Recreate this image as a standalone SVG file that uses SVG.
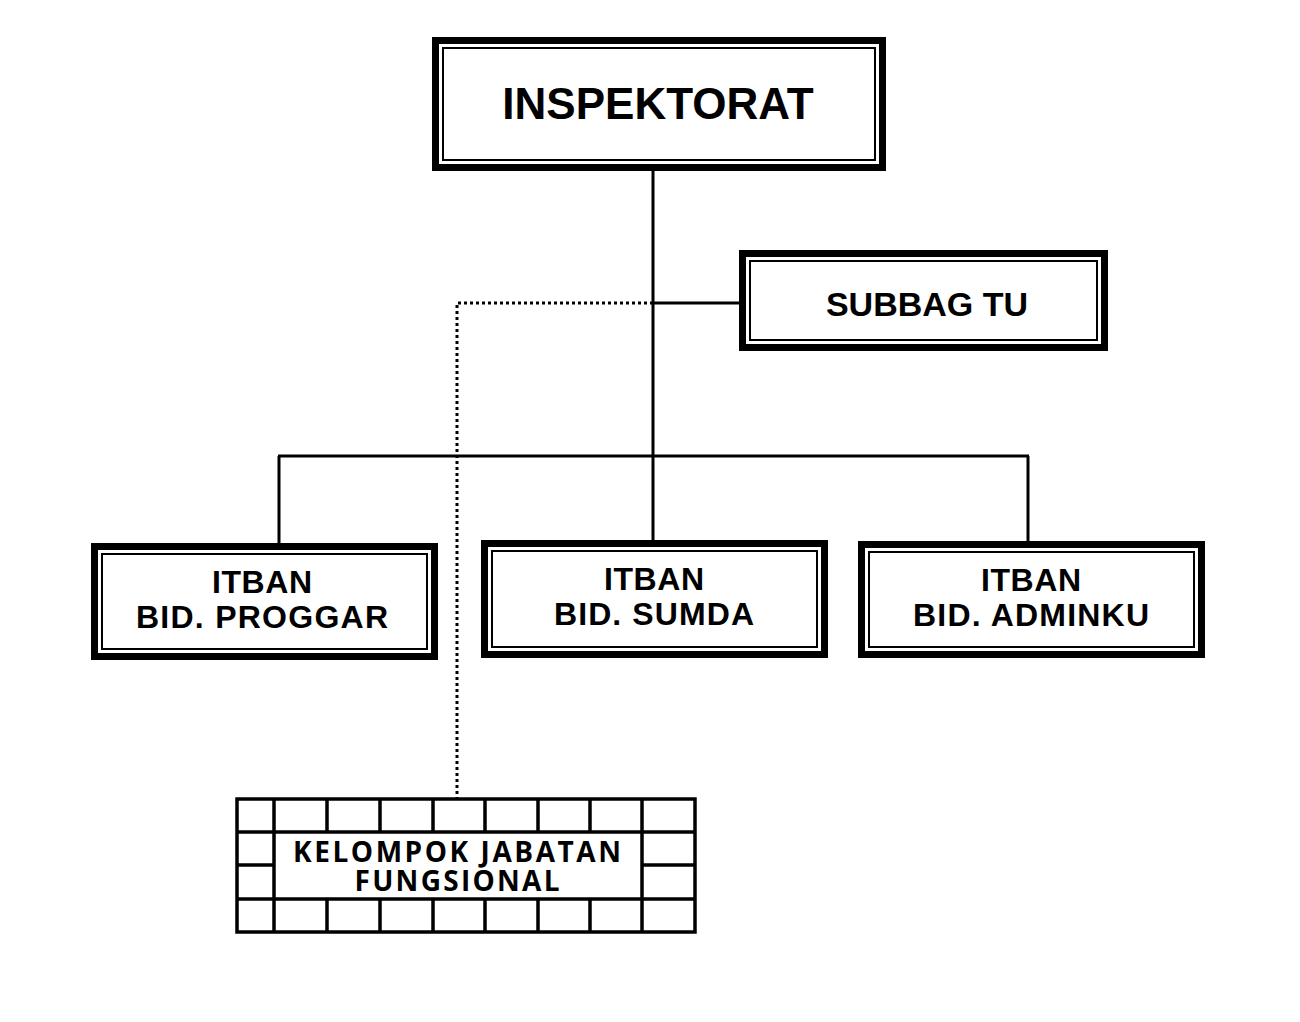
<svg xmlns="http://www.w3.org/2000/svg" width="1300" height="1022" viewBox="0 0 1300 1022">
<style>
.o{fill:#fff;stroke:#000;stroke-width:7}
.i{fill:none;stroke:#000;stroke-width:2}
.t{font-family:"Liberation Sans",Arial,sans-serif;font-weight:bold;fill:#000;text-anchor:middle}
.k{font-family:"Open Sans",sans-serif;font-weight:bold;fill:#000;text-anchor:middle;font-size:28px}
.g{fill:none;stroke:#000;stroke-width:3.5}
.l{stroke:#000;stroke-width:3;fill:none}
.d{stroke:#000;stroke-width:3;fill:none;stroke-dasharray:3 3}
</style>
<rect width="1300" height="1022" fill="#fff"/>
<g id="connectors">
<line class="l" x1="653" y1="171" x2="653" y2="540"/>
<line class="l" x1="653" y1="303" x2="739" y2="303"/>
<line class="l" x1="278" y1="456" x2="1029" y2="456"/>
<line class="l" x1="279" y1="456" x2="279" y2="543"/>
<line class="l" x1="1028" y1="456" x2="1028" y2="541"/>
<polyline class="d" points="653,303 457,303 457,799"/>
</g>
<g id="inspektorat">
<rect class="o" x="435.5" y="40.5" width="447" height="127"/>
<rect class="i" x="443" y="48" width="432" height="112"/>
<text class="t" x="658" y="119" font-size="44">INSPEKTORAT</text>
</g>
<g id="subbag">
<rect class="o" x="742.5" y="253.5" width="362" height="94"/>
<rect class="i" x="750" y="261" width="347" height="79"/>
<text class="t" x="927" y="316" font-size="34">SUBBAG TU</text>
</g>
<g id="proggar">
<rect class="o" x="94.5" y="546.5" width="340" height="110"/>
<rect class="i" x="102" y="554" width="325" height="95"/>
<text class="t" x="262" y="593" font-size="32" textLength="100">ITBAN</text>
<text class="t" x="262" y="628" font-size="32" textLength="252">BID. PROGGAR</text>
</g>
<g id="sumda">
<rect class="o" x="484.5" y="543.5" width="340" height="111"/>
<rect class="i" x="492" y="551" width="325" height="96"/>
<text class="t" x="654" y="590" font-size="32" textLength="100">ITBAN</text>
<text class="t" x="654" y="625" font-size="32" textLength="200">BID. SUMDA</text>
</g>
<g id="adminku">
<rect class="o" x="861.5" y="544.5" width="340" height="110"/>
<rect class="i" x="869" y="552" width="325" height="95"/>
<text class="t" x="1031" y="591" font-size="32" textLength="100">ITBAN</text>
<text class="t" x="1031" y="626" font-size="32" textLength="236">BID. ADMINKU</text>
</g>
<g id="kelompok">
<rect class="g" x="237" y="799" width="458" height="133" fill="#fff"/>
<line class="g" x1="237" y1="832" x2="695" y2="832"/>
<line class="g" x1="237" y1="899" x2="695" y2="899"/>
<line class="g" x1="237" y1="865" x2="274" y2="865"/>
<line class="g" x1="642" y1="865" x2="695" y2="865"/>
<path class="g" d="M274 799V932M642 799V932M327 799V832M380 799V832M433 799V832M485 799V832M538 799V832M590 799V832M327 899V932M380 899V932M433 899V932M485 899V932M538 899V932M590 899V932"/>
<text class="k" x="457" y="862" textLength="328">KELOMPOK JABATAN</text>
<text class="k" x="457" y="891" textLength="205">FUNGSIONAL</text>
</g>
</svg>
